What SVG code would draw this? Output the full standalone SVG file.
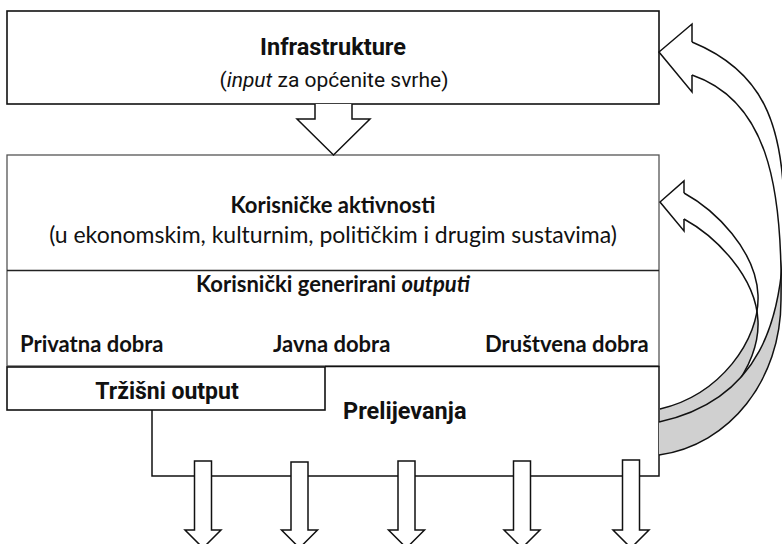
<svg xmlns="http://www.w3.org/2000/svg" width="782" height="544" viewBox="0 0 782 544">
<style>
.box{fill:#fff;stroke:#111;stroke-width:1.6}
.box2{fill:#fff;stroke:#555;stroke-width:1.3}
.ln{fill:none;stroke:#111;stroke-width:1.5}
.blk{fill:#fff;stroke:#111;stroke-width:1.5;stroke-linejoin:miter}
.fw{fill:#fff;stroke:none}
.fg{fill:#d0d0d0;stroke:none}
.r{font-family:Roboto,"Liberation Sans",sans-serif;fill:#111}
.c{font-family:Lato,"Liberation Sans",sans-serif;fill:#111}
.b{font-weight:bold}
</style>
<g id="infrastrukture">
<rect class="box" x="7" y="11" width="652" height="93"/>
<text class="r b" x="333" y="55" font-size="23.5" text-anchor="middle">Infrastrukture</text>
<text class="r" x="334" y="87" font-size="21" text-anchor="middle">(<tspan font-style="italic">input</tspan> za općenite svrhe)</text>
</g>
<g id="korisnicke-aktivnosti">
<rect class="box2" x="7" y="155" width="652" height="211"/>
<line x1="7" y1="270.5" x2="659" y2="270.5" stroke="#222" stroke-width="1.3"/>
<text class="c b" x="333" y="213" font-size="22" text-anchor="middle">Korisničke aktivnosti</text>
<text class="c" x="333" y="243" font-size="23" text-anchor="middle">(u ekonomskim, kulturnim, političkim i drugim sustavima)</text>
<text class="c b" x="333" y="292" font-size="22" text-anchor="middle">Korisnički generirani <tspan font-style="italic">outputi</tspan></text>
<text class="c b" x="20" y="352" font-size="22">Privatna dobra</text>
<text class="c b" x="273" y="352" font-size="22">Javna dobra</text>
<text class="c b" x="485" y="352" font-size="22">Društvena dobra</text>
</g>
<g id="prelijevanja">
<path class="ln" d="M325,366.5 H659 V476 H152 V410"/>
<text class="r b" x="343" y="419" font-size="23.5">Prelijevanja</text>
</g>
<g id="trzisni-output">
<rect class="box" x="7" y="367" width="318" height="43"/>
<text class="r b" x="167" y="399" font-size="23" text-anchor="middle">Tržišni output</text>
</g>
<g id="connectors">
<path class="blk" d="M315,104 V119 H297 L333.5,155 L370,119 H352 V104"/>
<g id="down-arrows">
<path class="blk" d="M194.5,461 H211.5 V530 H221 L203,548 L185,530 H194.5 Z"/>
<path class="blk" d="M291,462 H308 V530 H317.5 L299.5,548 L281.5,530 H291 Z"/>
<path class="blk" d="M398,461 H415 V530 H424.5 L406.5,548 L388.5,530 H398 Z"/>
<path class="blk" d="M513.5,461 H530.5 V530 H540 L522,548 L504,530 H513.5 Z"/>
<path class="blk" d="M622.5,460 H639.5 V530 H649 L631,548 L613,530 H622.5 Z"/>
</g>
<g id="curved-arrow-small">
<path class="fw" d="M684,193 C715,210 756,250 758,295 L758,321 C756,276 715,236 684,219 Z"/>
<path class="fg" d="M758,295 C760,340 720,395 660,409 L660,435 C720,421 760,366 758,321 Z"/>
<path class="blk" d="M684,193 L684,181 L660,202 L684,231 L684,219"/>
<path class="ln" d="M684,193 C715,210 756,250 758,295 C760,340 720,395 660,409"/>
<path class="ln" d="M684,219 C715,236 756,276 758,321 C760,366 720,421 660,435"/>
</g>
<g id="curved-arrow-large">
<path class="fw" d="M692,42 C760,70 786,120 784,225 L781,300 C783,180 765,100 692,75 Z"/>
<path class="fg" d="M784,225 C784,320 760,400 659,422 L659,455 C730,445 781,380 781,300 Z"/>
<path class="blk" d="M692,42 L692,24 L659,52 L692,92 L692,75"/>
<path class="ln" d="M692,42 C760,70 786,120 784,225 C784,320 760,400 659,422"/>
<path class="ln" d="M692,75 C765,100 783,180 781,300 C781,380 730,445 659,455"/>
</g>
</g>
</svg>
